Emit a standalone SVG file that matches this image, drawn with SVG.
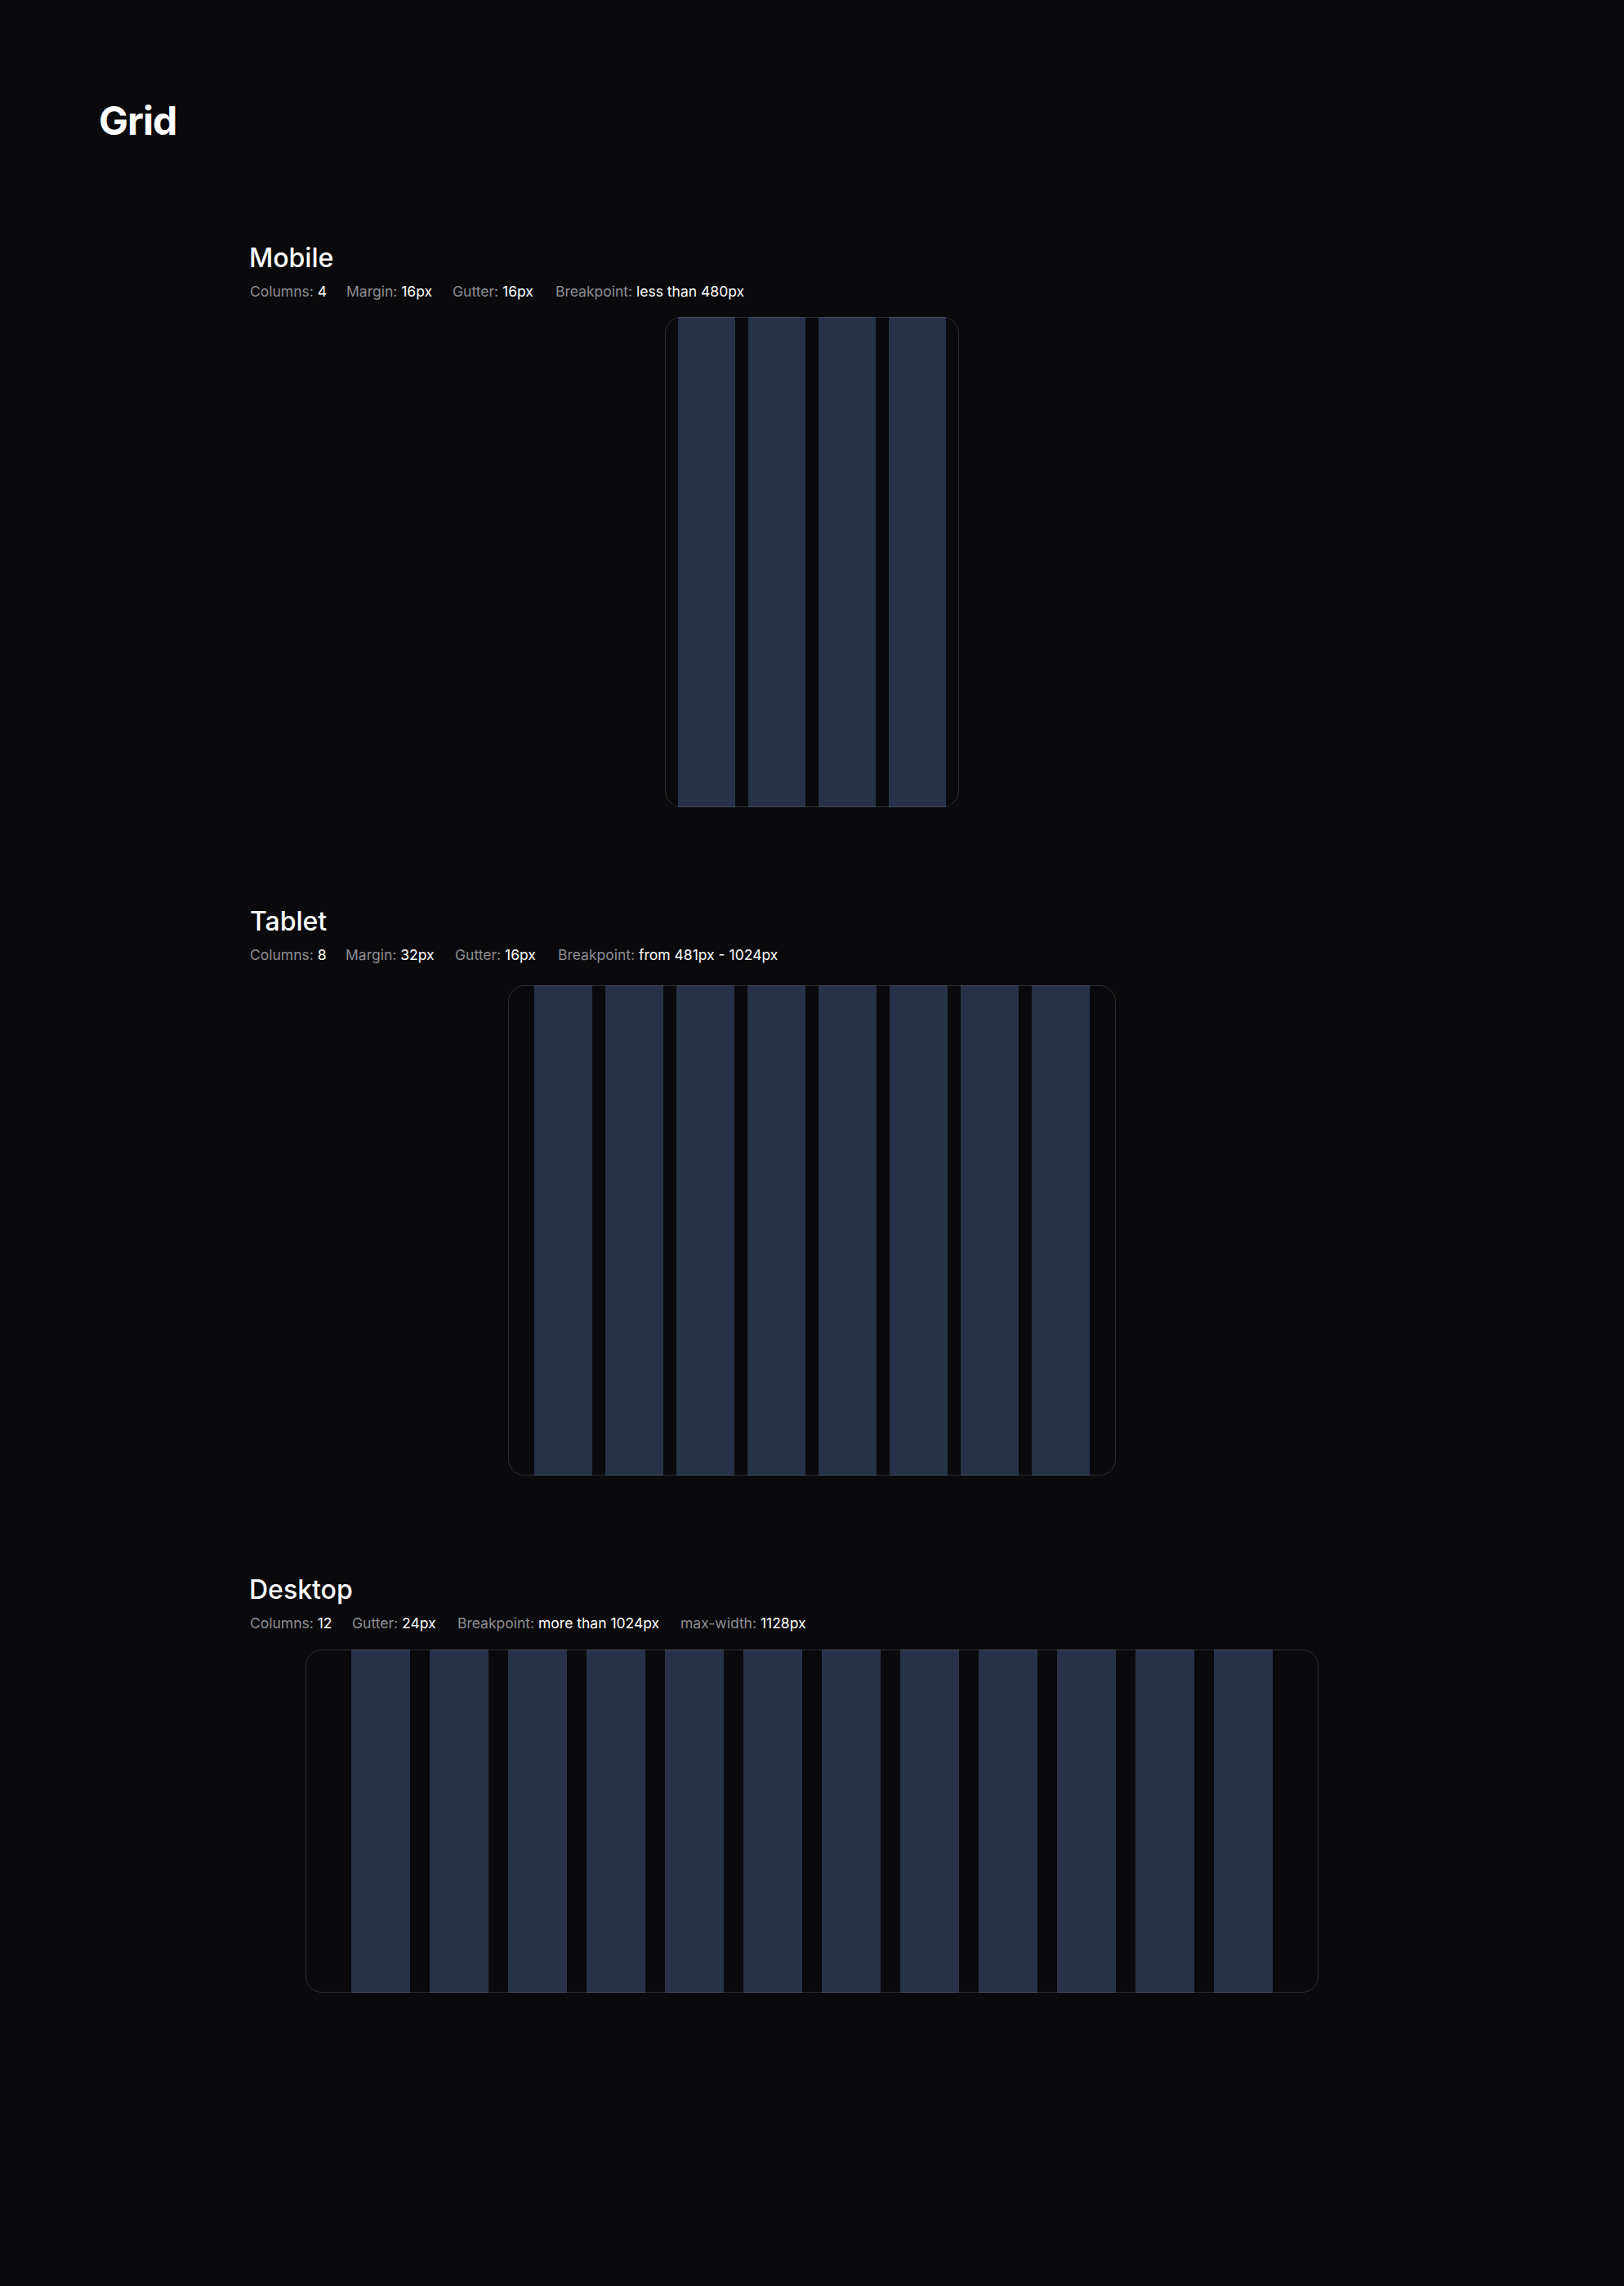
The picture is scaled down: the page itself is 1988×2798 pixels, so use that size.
<svg xmlns="http://www.w3.org/2000/svg" width="1988" height="2798" viewBox="0 0 1988 2798">
<style>
.bg{fill:#0a0a0c}
.title{font-family:Inter,"Noto Sans","Liberation Sans",sans-serif;font-weight:700;font-size:48px;fill:#ffffff;letter-spacing:-1px}
.h{font-family:Inter,"Noto Sans","Liberation Sans",sans-serif;font-weight:500;font-size:32px;fill:#ffffff}
.info{font-family:Inter,"Noto Sans","Liberation Sans",sans-serif;font-weight:400;font-size:17.5px;fill:#ffffff}
.lbl{fill:#8e8e93}
.col{fill:#273249}
.frame{fill:none;stroke:#ffffff;stroke-opacity:0.14;stroke-width:1}
</style>
<rect class="bg" x="0" y="0" width="1988" height="2798"/>
<text class="title" x="121" y="165">Grid</text>

<g id="mobile">
  <text class="h" x="305" y="327">Mobile</text>
  <text class="info" y="363"><tspan x="306" class="lbl">Columns: </tspan><tspan>4</tspan></text>
  <text class="info" y="363"><tspan x="424" class="lbl">Margin: </tspan><tspan>16px</tspan></text>
  <text class="info" y="363"><tspan x="554" class="lbl">Gutter: </tspan><tspan>16px</tspan></text>
  <text class="info" y="363"><tspan x="680" class="lbl">Breakpoint: </tspan><tspan>less than 480px</tspan></text>
  <g id="mobile-grid">
    <rect class="col" x="830" y="388" width="70" height="600"/>
    <rect class="col" x="916" y="388" width="70" height="600"/>
    <rect class="col" x="1002" y="388" width="70" height="600"/>
    <rect class="col" x="1088" y="388" width="70" height="600"/>
    <rect class="frame" x="814.5" y="388.5" width="359" height="599" rx="19.5"/>
  </g>
</g>

<g id="tablet">
  <text class="h" x="306" y="1139">Tablet</text>
  <text class="info" y="1175"><tspan x="306" class="lbl">Columns: </tspan><tspan>8</tspan></text>
  <text class="info" y="1175"><tspan x="423" class="lbl">Margin: </tspan><tspan>32px</tspan></text>
  <text class="info" y="1175"><tspan x="557" class="lbl">Gutter: </tspan><tspan>16px</tspan></text>
  <text class="info" y="1175"><tspan x="683" class="lbl">Breakpoint: </tspan><tspan>from 481px - 1024px</tspan></text>
  <g id="tablet-grid">
    <rect class="col" x="654" y="1206" width="71" height="600"/>
    <rect class="col" x="741" y="1206" width="71" height="600"/>
    <rect class="col" x="828" y="1206" width="71" height="600"/>
    <rect class="col" x="915" y="1206" width="71" height="600"/>
    <rect class="col" x="1002" y="1206" width="71" height="600"/>
    <rect class="col" x="1089" y="1206" width="71" height="600"/>
    <rect class="col" x="1176" y="1206" width="71" height="600"/>
    <rect class="col" x="1263" y="1206" width="71" height="600"/>
    <rect class="frame" x="622.5" y="1206.5" width="743" height="599" rx="19.5"/>
  </g>
</g>

<g id="desktop">
  <text class="h" x="305" y="1957">Desktop</text>
  <text class="info" y="1993"><tspan x="306" class="lbl">Columns: </tspan><tspan>12</tspan></text>
  <text class="info" y="1993"><tspan x="431" class="lbl">Gutter: </tspan><tspan>24px</tspan></text>
  <text class="info" y="1993"><tspan x="560" class="lbl">Breakpoint: </tspan><tspan>more than 1024px</tspan></text>
  <text class="info" y="1993"><tspan x="833" class="lbl">max-width: </tspan><tspan>1128px</tspan></text>
  <g id="desktop-grid">
    <rect class="col" x="430" y="2019" width="72" height="420"/>
    <rect class="col" x="526" y="2019" width="72" height="420"/>
    <rect class="col" x="622" y="2019" width="72" height="420"/>
    <rect class="col" x="718" y="2019" width="72" height="420"/>
    <rect class="col" x="814" y="2019" width="72" height="420"/>
    <rect class="col" x="910" y="2019" width="72" height="420"/>
    <rect class="col" x="1006" y="2019" width="72" height="420"/>
    <rect class="col" x="1102" y="2019" width="72" height="420"/>
    <rect class="col" x="1198" y="2019" width="72" height="420"/>
    <rect class="col" x="1294" y="2019" width="72" height="420"/>
    <rect class="col" x="1390" y="2019" width="72" height="420"/>
    <rect class="col" x="1486" y="2019" width="72" height="420"/>
    <rect class="frame" x="374.5" y="2019.5" width="1239" height="419" rx="19.5"/>
  </g>
</g>
</svg>
